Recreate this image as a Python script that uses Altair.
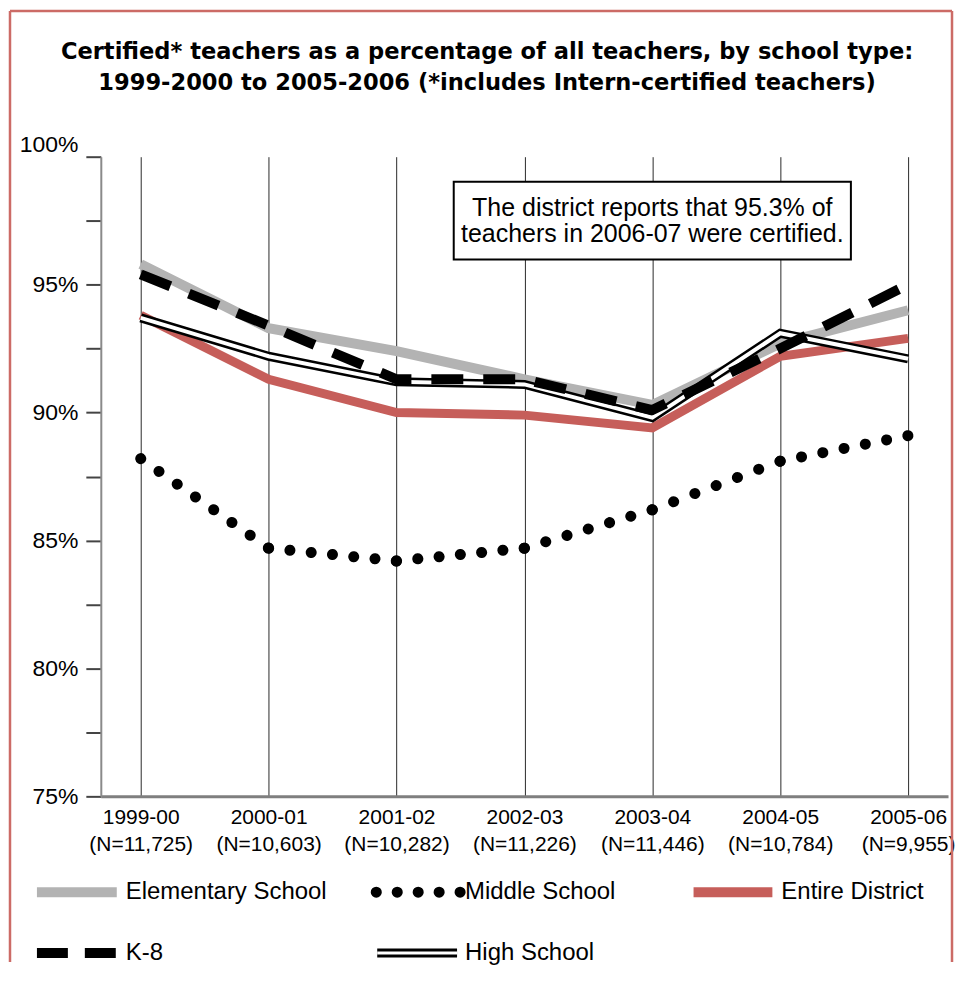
import altair as alt
import pandas as pd

# ---------------- data ----------------
years = ["1999-00", "2000-01", "2001-02", "2002-03", "2003-04", "2004-05", "2005-06"]
n_labels = ["(N=11,725)", "(N=10,603)", "(N=10,282)", "(N=11,226)",
            "(N=11,446)", "(N=10,784)", "(N=9,955)"]
elementary = [95.8, 93.3, 92.4, 91.3, 90.3, 92.7, 94.0]
k8 = [95.4, 93.4, 91.3, 91.3, 90.1, 92.5, 95.0]
high_school = [93.7, 92.2, 91.2, 91.1, 89.8, 93.1, 92.1]
district = [93.8, 91.3, 90.0, 89.9, 89.4, 92.2, 92.9]
middle = [88.2, 84.7, 84.2, 84.7, 86.2, 88.1, 89.1]

title_lines = ["Certified* teachers as a percentage of all teachers, by school type:",
               "1999-2000 to 2005-2006 (*includes Intern-certified teachers)"]
note_text = "The district reports that 95.3% of\nteachers in 2006-07 were certified."
note_year = "2003-04"
note_value = 97.5

legend_names = ["Elementary School", "Middle School", "Entire District", "K-8", "High School"]
legend_row = [0, 0, 0, 1, 1]

# ---------------- layout constants ----------------
FONT = "Liberation Sans"
W, H = 849, 641
PAD = 0.312
Y0, Y1 = 75, 100
DOT_GAP = 21.5

# ---------------- tables ----------------
keys = [f"{y}|{n}" for y, n in zip(years, n_labels)]
series = {
    "Elementary School": elementary,
    "K-8": k8,
    "High School": high_school,
    "Entire District": district,
}
rows = []
for name, vals in series.items():
    for k, v in zip(keys, vals):
        rows.append({"key": k, "series": name, "value": v})
df = pd.DataFrame(rows)

# middle school: one piece per segment so the dots fall on each year
px_step = W / (len(years) - 1 + 2 * PAD)
px_pct = H / (Y1 - Y0)
mid_rows, seg_ids, seg_dash = [], [], []
for i in range(len(years) - 1):
    sid = f"s{i}"
    dy = (middle[i + 1] - middle[i]) * px_pct
    seg_len = (px_step ** 2 + dy ** 2) ** 0.5
    n = max(1, round(seg_len / DOT_GAP))
    period = (seg_len - 0.3) / n
    seg_ids.append(sid)
    seg_dash.append([0.1, period - 0.1])
    mid_rows.append({"key": keys[i], "seg": sid, "value": middle[i]})
    mid_rows.append({"key": keys[i + 1], "seg": sid, "value": middle[i + 1]})
mid_df = pd.DataFrame(mid_rows)

note_key = keys[years.index(note_year)]
note_df = pd.DataFrame({"key": [note_key], "value": [note_value], "text": [note_text]})

x_enc = alt.X(
    "key:N", sort=keys,
    scale=alt.Scale(type="point", padding=PAD),
    axis=alt.Axis(
        title=None, labelExpr="split(datum.label, '|')", labelAngle=0,
        labelFont=FONT, labelFontSize=21, labelColor="black", labelPadding=10,
        labelLineHeight=27, ticks=False, domainColor="#7f7f7f", domainWidth=3,
        grid=True, gridColor="#2a2a2a", gridWidth=1,
    ),
)
y_enc = alt.Y(
    "value:Q",
    scale=alt.Scale(domain=[Y0, Y1], nice=False, zero=False),
    axis=alt.Axis(
        title=None, values=[75, 77.5, 80, 82.5, 85, 87.5, 90, 92.5, 95, 97.5, 100],
        labelExpr="datum.value % 5 == 0 ? datum.value + '%' : ''",
        labelFont=FONT, labelFontSize=23, labelColor="black", labelPadding=8,
        labelBaseline={"condition": {"test": "datum.value == 100", "value": "bottom"},
                       "value": "middle"},
        tickSize=15, tickWidth=2, tickColor="#444444",
        domainColor="#8a8a8a", domainWidth=2, grid=False,
    ),
)

base = alt.Chart(df).encode(x=x_enc, y=y_enc)


def series_layer(name, **mark):
    return base.transform_filter(alt.datum.series == name).mark_line(**mark)


gray = series_layer("Elementary School", color="#b3b3b3", strokeWidth=10)
red = series_layer("Entire District", color="#c65e5a", strokeWidth=9)
hs_outer = series_layer("High School", color="black", strokeWidth=9)
hs_inner = series_layer("High School", color="white", strokeWidth=4)
k8_line = series_layer("K-8", color="black", strokeWidth=10, strokeDash=[32, 20])
mid_line = alt.Chart(mid_df).mark_line(color="black", strokeWidth=11, strokeCap="round").encode(
    x=x_enc, y=y_enc,
    strokeDash=alt.StrokeDash("seg:N", scale=alt.Scale(domain=seg_ids, range=seg_dash), legend=None),
)

note_box = alt.Chart(note_df).mark_rect(
    width=398, height=78, fill="white", stroke="black", strokeWidth=2
).encode(x=alt.X("key:N", sort=keys), y="value:Q")
note_txt = alt.Chart(note_df).mark_text(
    font=FONT, fontSize=25, lineBreak="\n", lineHeight=26, align="center",
    baseline="middle", color="black", dy=-13
).encode(x=alt.X("key:N", sort=keys), y="value:Q", text="text:N")

main = alt.layer(gray, red, hs_outer, hs_inner, k8_line, mid_line, note_box, note_txt).properties(
    width=W, height=H,
    title=alt.TitleParams(
        text=title_lines, font="DejaVu Sans", fontSize=22.6, fontWeight="bold",
        lineHeight=31, anchor="middle", frame="bounds", color="black", offset=39,
    ),
)

# ---------------- legend panel (pixel-like layout scale) ----------------
sym_start = [-64, 276, 594, -64, 277]
sym_end = [16, 360.2, 673, 16, 357]
text_x = [25, 365, 682, 25, 365]
leg_df = pd.DataFrame({
    "name": legend_names,
    "x0": sym_start,
    "x1": sym_end,
    "xt": text_x,
    "yr": [1 - r for r in legend_row],
})
LW, LH = W, 61
lx_scale = alt.Scale(domain=[0, LW], nice=False, zero=False)
ly_scale = alt.Scale(domain=[0, 1], nice=False, zero=False)
lbase = alt.Chart(leg_df)


def leg_sym(name, **mark):
    return lbase.transform_filter(alt.datum.name == name).mark_rule(**mark).encode(
        x=alt.X("x0:Q", scale=lx_scale, axis=None),
        x2="x1:Q",
        y=alt.Y("yr:Q", scale=ly_scale, axis=None),
    )


leg_layers = [
    leg_sym("Elementary School", color="#b3b3b3", strokeWidth=10),
    leg_sym("Middle School", color="black", strokeWidth=11, strokeDash=[0.1, 20.9], strokeCap="round"),
    leg_sym("Entire District", color="#c65e5a", strokeWidth=10),
    leg_sym("K-8", color="black", strokeWidth=10, strokeDash=[31, 17]),
    leg_sym("High School", color="black", strokeWidth=9),
    leg_sym("High School", color="white", strokeWidth=3),
    lbase.mark_text(font=FONT, fontSize=24, align="left", baseline="middle", color="black").encode(
        x=alt.X("xt:Q", scale=lx_scale, axis=None),
        y=alt.Y("yr:Q", scale=ly_scale, axis=None),
        text="name:N",
    ),
]

# decorative frame around the whole figure (left, top, right edges)
frame_df = pd.DataFrame({"f": [0]})
FC = "#cc6b66"
fbase = alt.Chart(frame_df)
FL, FR, FT, FB = -91, 853, -883, 70
frame = [
    fbase.mark_rule(color=FC, strokeWidth=2.5).encode(
        x=alt.value(FL), y=alt.value(FT), y2=alt.value(FB)),
    fbase.mark_rule(color=FC, strokeWidth=2.5).encode(
        x=alt.value(FR), y=alt.value(FT), y2=alt.value(FB)),
    fbase.mark_rule(color=FC, strokeWidth=2.5).encode(
        x=alt.value(FL), x2=alt.value(FR), y=alt.value(FT)),
]

legend = alt.layer(*leg_layers, *frame).properties(width=LW, height=LH)

chart = alt.vconcat(main, legend, spacing=96, bounds="flush").properties(
    padding=0
).configure(font=FONT).configure_view(stroke="transparent", strokeWidth=0)

chart.save("out.html", embed_options={"renderer": "svg", "actions": False})
